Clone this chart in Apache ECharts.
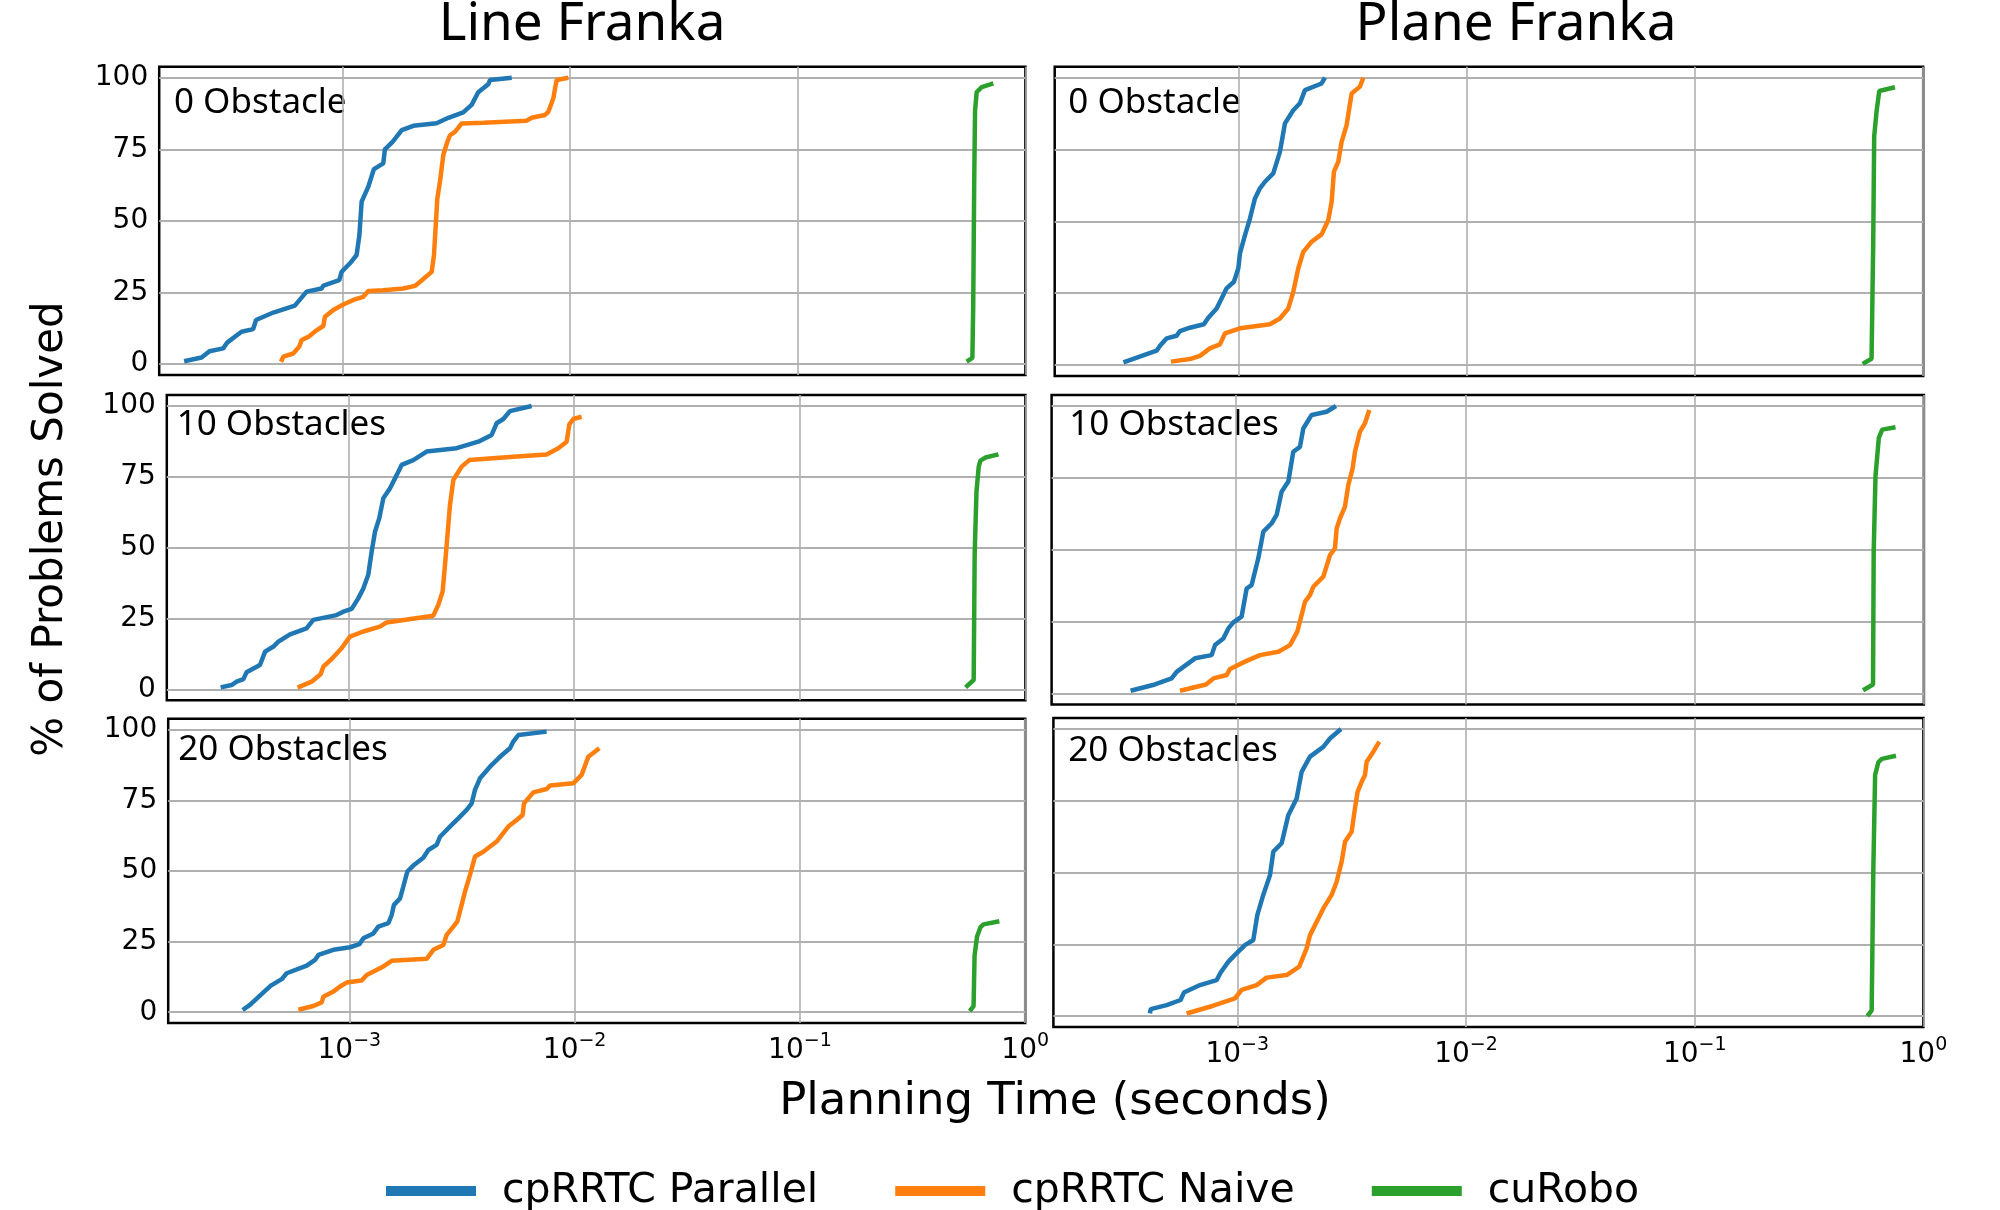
<!DOCTYPE html>
<html>
<head>
<meta charset="utf-8">
<script src="https://cdn.jsdelivr.net/npm/echarts@6/dist/echarts.min.js"></script>
<style>html,body{margin:0;padding:0;background:#fff}</style>
</head>
<body>
<div id="chart" style="width:2000px;height:1210px;"></div>
<script>
// planning time in milliseconds, % of problems solved
var lineParallel0 = [[0.202,1],[0.241,2.3],[0.261,4.5],[0.300,5.5],[0.313,7.6],[0.361,11.3],[0.406,12.2],[0.418,15.4],[0.498,18.0],[0.619,20.4],[0.697,25.3],[0.811,26.4],[0.826,27.4],[0.970,29.3],[0.993,32.2],[1.081,35.2],[1.156,38.1],[1.189,45.1],[1.216,56.7],[1.300,61.9],[1.377,68.1],[1.514,70.1],[1.538,75.0],[1.663,77.6],[1.824,81.7],[2.051,83.2],[2.594,84.1],[2.924,86.0],[3.396,87.9],[3.698,90.5],[3.954,94.9],[4.375,97.7],[4.457,99.2],[5.546,100]];
var lineNaive0 = [[0.538,0.8],[0.551,2.6],[0.609,3.7],[0.647,6.1],[0.663,8.4],[0.709,9.5],[0.771,11.8],[0.825,13.3],[0.839,16.5],[0.913,18.9],[1.010,20.8],[1.118,22.4],[1.236,23.5],[1.301,25.5],[1.513,25.8],[1.853,26.4],[2.085,27.3],[2.269,29.7],[2.469,32.2],[2.527,38.0],[2.578,49.7],[2.614,57.8],[2.685,63.7],[2.777,73.0],[2.892,77.6],[2.971,79.9],[3.125,81.1],[3.343,84.0],[4.163,84.3],[6.452,85.0],[6.786,86.0],[7.767,87.0],[8.033,88.1],[8.451,92.8],[8.594,96.2],[8.739,99.2],[9.833,100]];
var lineCurobo0 = [[552,0.9],[585,2.2],[590,20.6],[596,64.3],[601,88.4],[611,95.0],[643,96.7],[723,98.0]];

var lineParallel10 = [[0.272,0.7],[0.304,1.5],[0.320,2.7],[0.343,3.6],[0.354,6.0],[0.406,8.6],[0.428,13.3],[0.466,15.1],[0.490,16.8],[0.552,19.4],[0.653,21.5],[0.700,24.5],[0.887,26.2],[0.951,27.4],[1.035,28.4],[1.107,32.1],[1.166,35.6],[1.226,40.4],[1.269,48.6],[1.313,55.6],[1.372,60.4],[1.429,67.4],[1.529,70.9],[1.638,75.6],[1.723,79.2],[1.941,80.9],[2.223,83.9],[3.020,85.1],[3.767,87.4],[4.317,89.8],[4.540,93.9],[4.863,95.4],[5.203,98.2],[6.490,100]];
var lineNaive10 = [[0.596,0.6],[0.688,2.7],[0.754,5.3],[0.775,8.0],[0.844,10.7],[0.934,14.5],[1.017,18.6],[1.166,20.4],[1.381,22.1],[1.479,23.6],[2.381,26.0],[2.505,29.8],[2.618,34.5],[2.682,43.9],[2.728,50.9],[2.822,65.1],[2.920,73.9],[3.179,78.6],[3.437,80.9],[5.571,82.2],[7.565,82.9],[8.523,85.1],[9.281,87.4],[9.535,93.5],[9.930,95.4],[10.81,96.2]];
var lineCurobo10 = [[543,0.7],[590,3.3],[596,47.6],[607,69.7],[621,78.5],[632,80.7],[665,81.8],[760,82.9]];

var lineParallel20 = [[0.336,0.8],[0.362,2.6],[0.401,5.9],[0.448,9.4],[0.501,11.7],[0.527,13.8],[0.647,16.5],[0.704,18.5],[0.729,20.3],[0.849,22.1],[1.007,23.0],[1.108,24.1],[1.154,26.2],[1.278,27.9],[1.345,30.3],[1.490,31.5],[1.541,34.4],[1.578,38.0],[1.679,40.3],[1.736,44.5],[1.809,49.8],[1.923,51.9],[2.130,54.7],[2.242,57.4],[2.441,59.2],[2.526,62.1],[2.846,66.3],[3.046,68.6],[3.317,71.6],[3.491,73.9],[3.612,78.7],[3.802,82.8],[4.210,86.9],[4.664,90.4],[5.164,93.4],[5.343,95.8],[5.623,98.1],[7.510,99.3]];
var lineNaive20 = [[0.594,0.9],[0.692,2.2],[0.754,3.5],[0.767,5.5],[0.849,7.3],[0.909,9.1],[0.973,10.5],[1.134,11.2],[1.194,13.2],[1.416,16.2],[1.541,18.2],[2.204,18.9],[2.360,22.1],[2.614,23.8],[2.704,27.4],[3.015,32.1],[3.151,38.0],[3.261,42.7],[3.432,48.6],[3.612,55.1],[3.933,56.8],[4.507,60.4],[5.077,65.7],[5.530,68.0],[5.878,69.8],[5.958,73.9],[6.556,77.8],[7.510,79.0],[7.771,80.2],[9.865,81.0],[10.74,84.0],[11.50,90.4],[12.87,93.4]];
var lineCurobo20 = [[567,0.4],[590,2.2],[596,20],[611,26.7],[632,30],[653,31.1],[768,32.2]];

var planeParallel0 = [[0.314,0.9],[0.439,5.0],[0.454,6.7],[0.486,9.3],[0.537,10.2],[0.555,11.8],[0.614,13.0],[0.707,14.2],[0.739,16.5],[0.804,19.7],[0.845,23.2],[0.889,26.7],[0.957,29.0],[1.000,33.6],[1.017,38.9],[1.070,45.2],[1.125,51.0],[1.183,58.0],[1.244,61.5],[1.309,63.8],[1.423,66.7],[1.522,74.2],[1.601,84.1],[1.741,88.7],[1.862,91.1],[1.959,95.7],[2.317,98.0],[2.397,100]];
var planeNaive0 = [[0.507,1.2],[0.614,2.1],[0.679,3.2],[0.751,5.8],[0.831,7.2],[0.874,11.0],[1.017,12.8],[1.376,14.2],[1.522,16.2],[1.656,19.7],[1.741,25.5],[1.831,33.6],[1.926,39.4],[2.095,42.9],[2.317,45.5],[2.479,50.5],[2.564,56.8],[2.624,67.3],[2.742,70.8],[2.835,77.7],[2.982,83.5],[3.136,94.5],[3.411,96.9],[3.527,100]];
var planeCurobo0 = [[543,0.4],[594,2.2],[604,42.5],[610,79.6],[625,88.4],[642,95.4],[752,96.7]];

var planeParallel10 = [[0.347,0.9],[0.443,3.1],[0.524,5.2],[0.551,7.5],[0.663,12.2],[0.783,13.3],[0.810,16.8],[0.881,19.1],[0.926,22.6],[0.974,24.7],[1.058,26.7],[1.113,36.5],[1.170,37.7],[1.251,47.0],[1.316,56.3],[1.431,59.2],[1.504,62.1],[1.581,70.2],[1.691,73.7],[1.778,84.1],[1.901,85.8],[1.966,92.2],[2.138,96.9],[2.485,98.0],[2.729,100]];
var planeNaive10 = [[0.570,0.9],[0.740,3.1],[0.797,5.2],[0.911,6.4],[0.942,8.5],[1.113,11.3],[1.273,13.3],[1.530,14.5],[1.720,16.8],[1.851,21.5],[2.000,31.9],[2.102,34.2],[2.174,37.1],[2.403,40.6],[2.570,48.1],[2.702,50.5],[2.748,57.4],[2.841,60.9],[2.987,65.0],[3.089,72.5],[3.227,78.3],[3.303,84.1],[3.473,91.1],[3.652,94.0],[3.815,98.6]];
var planeCurobo10 = [[543,1.1],[600,3.1],[604,49.1],[615,75.6],[636,88.9],[658,91.8],[752,92.6]];

var planeParallel20 = [[0.415,0.9],[0.418,2.4],[0.491,3.8],[0.565,5.6],[0.584,8.2],[0.687,10.8],[0.812,12.5],[0.846,15.2],[0.913,18.9],[0.977,21.3],[1.080,24.7],[1.175,26.5],[1.223,35.2],[1.299,42.2],[1.390,49.1],[1.437,57.3],[1.563,60.2],[1.671,70.0],[1.818,75.8],[1.911,85.1],[2.079,90.4],[2.377,93.8],[2.542,96.7],[2.841,100]];
var planeNaive20 = [[0.600,0.9],[0.785,3.6],[0.977,6.2],[1.045,9.1],[1.215,10.8],[1.344,13.4],[1.643,14.3],[1.866,17.2],[2.010,23.6],[2.079,28.2],[2.261,34.0],[2.377,37.5],[2.585,42.2],[2.719,46.8],[2.860,53.8],[2.957,60.7],[3.162,64.2],[3.270,72.4],[3.359,78.2],[3.498,81.6],[3.617,84.0],[3.678,88.6],[3.934,92.1],[4.178,95.6]];
var planeCurobo20 = [[569,0],[594,2],[604,51],[615,84],[636,88.5],[658,89.6],[759,90.7]];

var scenes = ['Line Franka', 'Plane Franka'];
var obstacleLabels = ['0 Obstacle', '10 Obstacles', '20 Obstacles'];
var methods = ['cpRRTC Parallel', 'cpRRTC Naive', 'cuRobo'];
var xTicks = [0.001, 0.01, 0.1, 1];
var yTicks = [0, 25, 50, 75, 100];

var panelData = [
  [lineParallel0, lineNaive0, lineCurobo0],
  [lineParallel10, lineNaive10, lineCurobo10],
  [lineParallel20, lineNaive20, lineCurobo20],
  [planeParallel0, planeNaive0, planeCurobo0],
  [planeParallel10, planeNaive10, planeCurobo10],
  [planeParallel20, planeNaive20, planeCurobo20]
];

// layout: [left, top, width, height] per panel (column-major)
var boxes = [
  [159.2, 66.7, 866.2, 308.4],
  [166.8, 395.1, 858.6, 305.1],
  [168.2, 718.8, 857.0, 304.3],
  [1054.7, 66.7, 868.5, 309.4],
  [1051.6, 395.0, 872.3, 309.4],
  [1053.4, 718.0, 870.0, 309.1]
];
var labelPos = [[174, 103], [176.7, 425], [178.3, 750.5], [1068.3, 102.8], [1069.3, 425], [1068.3, 751.5]];
var colors = ['#1f77b4', '#ff7f0e', '#2ca02c'];

var grids = [], xAxes = [], yAxes = [], series = [], graphics = [];

function expLabel(v) {
  var e = Math.round(Math.log10(v));
  return '{b|10}{s|' + (e < 0 ? '\u2212' : '') + Math.abs(e) + '}';
}

for (var p = 0; p < 6; p++) {
  var col = Math.floor(p / 3), row = p % 3;
  var b = boxes[p];
  grids.push({left: b[0], top: b[1], width: b[2], height: b[3], show: true,
    borderColor: '#000', borderWidth: 2.5, backgroundColor: 'transparent'});
  xAxes.push({
    type: 'log', logBase: 10, gridIndex: p, min: 1.57e-4, max: 1,
    axisLine: {show: false},
    axisTick: {show: false, customValues: xTicks},
    axisLabel: {
      show: row === 2, customValues: xTicks, margin: 8, formatter: expLabel,
      rich: {
        b: {fontFamily: 'DejaVu Sans', fontSize: 28, color: '#000', lineHeight: 40},
        s: {fontFamily: 'DejaVu Sans', fontSize: 19, color: '#000', lineHeight: 27, verticalAlign: 'top'}
      }
    },
    splitLine: {show: true, lineStyle: {color: '#b0b0b0', width: 1.6}}
  });
  yAxes.push({
    type: 'value', gridIndex: p, min: -3.84, max: 103.84,
    axisLine: {show: false},
    axisTick: {show: false, customValues: yTicks},
    axisLabel: {show: col === 0, customValues: yTicks, margin: 11,
      fontFamily: 'DejaVu Sans', fontSize: 28, color: '#000'},
    splitLine: {show: true, lineStyle: {color: '#b0b0b0', width: 2}}
  });
  for (var m = 0; m < 3; m++) {
    series.push({
      type: 'line', name: methods[m], xAxisIndex: p, yAxisIndex: p,
      data: panelData[p][m].map(function (d) { return [d[0] / 1000, d[1]]; }),
      showSymbol: false, symbol: 'none', smooth: false,
      lineStyle: {width: 4.5, color: colors[m]},
      itemStyle: {color: colors[m]},
      emphasis: {disabled: true}
    });
  }
  graphics.push({type: 'text', x: labelPos[p][0], y: labelPos[p][1],
    style: {text: obstacleLabels[row], fontFamily: 'Noto Sans', fontSize: 35, fill: '#000',
      textAlign: 'left', textVerticalAlign: 'middle', align: 'left', verticalAlign: 'middle'}});
}

var titleX = [582, 1516];
for (var s = 0; s < 2; s++) {
  graphics.push({type: 'text', x: titleX[s], y: 25,
    style: {text: scenes[s], fontFamily: 'Noto Sans', fontSize: 53, fill: '#000',
      textAlign: 'center', textVerticalAlign: 'middle', align: 'center', verticalAlign: 'middle'}});
}
graphics.push({type: 'text', x: 1055, y: 1102,
  style: {text: 'Planning Time (seconds)', fontFamily: 'DejaVu Sans', fontSize: 45, fill: '#000',
    textAlign: 'center', textVerticalAlign: 'middle', align: 'center', verticalAlign: 'middle'}});
graphics.push({type: 'text', x: 51, y: 529, rotation: Math.PI / 2,
  style: {text: '% of Problems Solved', fontFamily: 'DejaVu Sans', fontSize: 42, fill: '#000',
    textAlign: 'center', textVerticalAlign: 'middle', align: 'center', verticalAlign: 'middle'}});

var chart = echarts.init(document.getElementById('chart'));
chart.setOption({
  animation: false,
  backgroundColor: '#fff',
  grid: grids,
  xAxis: xAxes,
  yAxis: yAxes,
  series: series,
  graphic: graphics,
  legend: {
    data: methods, left: 381, top: 1164, itemWidth: 90, itemHeight: 10, icon: 'rect',
    itemGap: 77, selectedMode: false,
    textStyle: {fontFamily: 'DejaVu Sans', fontSize: 41, color: '#000', lineHeight: 44, padding: [0, 0, 0, 21]}
  }
});
</script>
</body>
</html>
